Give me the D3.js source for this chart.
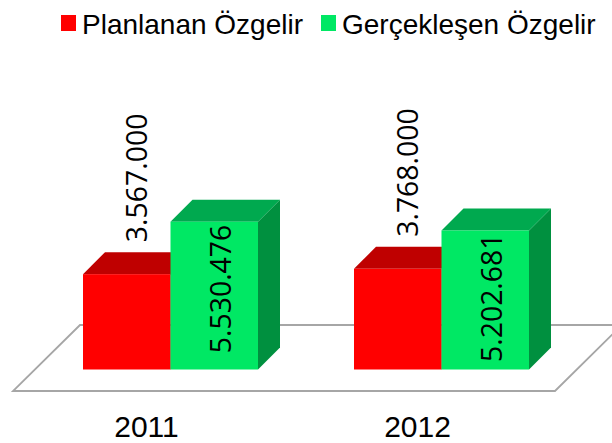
<!DOCTYPE html>
<html>
<head>
<meta charset="utf-8">
<script src="https://cdn.jsdelivr.net/npm/d3@7"></script>
<style>
body { margin: 0; background: #fff; }
svg { display: block; }
</style>
</head>
<body>
<svg id="chart"></svg>
<script>
var years = ['2011', '2012']
var seriesNames = ['Planlanan Özgelir', 'Gerçekleşen Özgelir']
var planlanan = [3567000, 3768000]
var gerceklesen = [5530476, 5202681]
var valueLabels = [['3.567.000', '3.768.000'], ['5.530.476', '5.202.681']]

var width = 612, height = 443
var floorLeft = 13, floorRight = 555, floorFront = 391, floorBack = 325, floorSkew = 67
var base = 369.5, depth = 22, groupWidth = 175

var colors = [
	{front: '#ff0000', top: '#bf0000', side: '#990000'},
	{front: '#00e864', top: '#00a94f', side: '#00903f'}
]

var svg = d3.select('#chart').attr('width', width).attr('height', height)

var x0 = d3.scaleBand().domain(years).range([floorLeft, floorRight])
var x1 = d3.scaleBand().domain(seriesNames).range([0, groupWidth])
var y = d3.scaleLinear().domain([0, 5530476]).range([base, 221.7])

// floor, runs off the right edge of the window
svg.append('path')
	.attr('d', d3.line()([
		[floorRight, floorFront], [floorLeft, floorFront],
		[floorLeft + floorSkew, floorBack], [floorRight + floorSkew, floorBack],
		[floorRight, floorFront]
	]) + 'Z')
	.attr('fill', 'none')
	.attr('stroke', '#a6a6a6')
	.attr('stroke-width', 1.8)

var groupX = d => x0(d) + (x0.bandwidth() - groupWidth) / 2 + depth
var line = d3.line()

var data = [planlanan, gerceklesen]
seriesNames.forEach((name, s) => {
	var g = svg.append('g')
	years.forEach((yr, i) => {
		var left = groupX(yr) + x1(name)
		var right = left + x1.bandwidth()
		var top = y(data[s][i])
		g.append('path') // side
			.attr('d', line([[right, top], [right + depth, top - depth], [right + depth, base - depth], [right, base]]) + 'Z')
			.attr('fill', colors[s].side)
		g.append('path') // top
			.attr('d', line([[left, top], [left + depth, top - depth], [right + depth, top - depth], [right, top]]) + 'Z')
			.attr('fill', colors[s].top)
		g.append('rect')
			.attr('x', left)
			.attr('y', top)
			.attr('width', x1.bandwidth())
			.attr('height', base - top)
			.attr('fill', colors[s].front)
	})
})

// value labels, rotated
seriesNames.forEach((name, s) => {
	years.forEach((yr, i) => {
		var cx = groupX(yr) + x1(name) + x1.bandwidth() / 2 + (s == 0 ? 20.5 : 17)
		var ty = s == 0 ? y(data[s][i]) - 32 : y(data[s][i]) + 3
		svg.append('text')
			.attr('transform', 'translate(' + cx + ',' + ty + ') rotate(-90)')
			.attr('text-anchor', s == 0 ? 'start' : 'end')
			.style('font-family', '"Open Sans"')
			.style('font-size', '28.4px')
			.attr('fill', '#000')
			.text(valueLabels[s][i])
	})
})

// category labels
svg.selectAll('.year')
	.data(years)
	.enter()
	.append('text')
		.attr('class', 'year')
		.attr('x', d => x0(d) + x0.bandwidth() / 2 - 2)
		.attr('y', 437)
		.attr('text-anchor', 'middle')
		.style('font-family', '"Liberation Sans"')
		.style('font-size', '30px')
		.text(d => d)

// legend
var legendBox = [61, 321]
seriesNames.forEach((name, s) => {
	svg.append('rect')
		.attr('x', legendBox[s])
		.attr('y', 15)
		.attr('width', 15)
		.attr('height', 16)
		.attr('fill', colors[s].front)
	svg.append('text')
		.attr('x', legendBox[s] + 21)
		.attr('y', 34)
		.style('font-family', '"Liberation Sans"')
		.style('font-size', '28px')
		.text(name)
})
</script>
</body>
</html>
